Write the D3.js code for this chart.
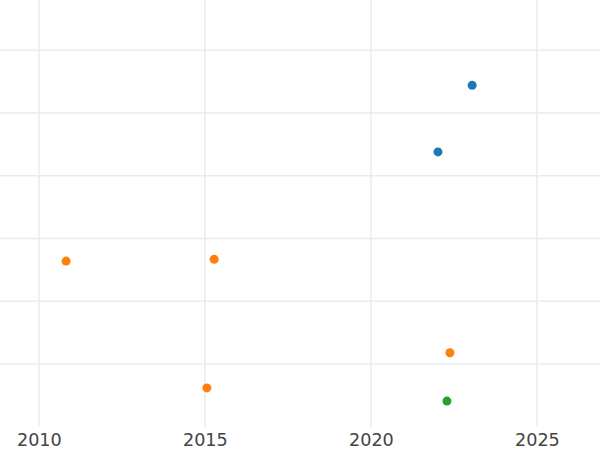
<!DOCTYPE html>
<html>
<head>
<meta charset="utf-8">
<script src="https://cdn.jsdelivr.net/npm/d3@7"></script>
<style>
  body { margin: 0; background: #fff; }
  text { font-family: "DejaVu Sans", sans-serif; }
</style>
</head>
<body>
<script>
var
  width   = 600,
  height  = 450,
  plotBottom = 426.8,
  xTicks  = [2010, 2015, 2020, 2025],
  yTicks  = [1, 2, 3, 4, 5, 6],
  // three series
  blueYears   = [2023.05, 2022.02],
  blueValues  = [5.44, 4.38],
  orangeYears  = [2010.82, 2015.28, 2022.38, 2015.06],
  orangeValues = [2.64, 2.67, 1.18, 0.62],
  greenYears  = [2022.29],
  greenValues = [0.41],
  series  = [
    { color: '#1f77b4', years: blueYears,   values: blueValues },
    { color: '#ff7f0e', years: orangeYears, values: orangeValues },
    { color: '#2ca02c', years: greenYears,  values: greenValues }
  ],
  x       = d3.scaleLinear()
                .domain([2008.83, 2026.9])
                .range([0, width]),
  y       = d3.scaleLinear()
                .domain([0, 6.8])
                .range([plotBottom, 0]),
  svg     = d3.select('body')
                .append('svg')
                .attr('width', width)
                .attr('height', height);

// grid
svg.append('g')
  .selectAll('line')
  .data(yTicks)
  .enter()
  .append('line')
    .attr('x1', 0)
    .attr('x2', width)
    .attr('y1', y)
    .attr('y2', y)
    .attr('stroke', '#ebebeb')
    .attr('stroke-width', 1.5);

svg.append('g')
  .selectAll('line')
  .data(xTicks)
  .enter()
  .append('line')
    .attr('x1', x)
    .attr('x2', x)
    .attr('y1', 0)
    .attr('y2', plotBottom)
    .attr('stroke', '#ebebeb')
    .attr('stroke-width', 1.5);

// x axis labels
var xAxis = svg.append('g')
  .attr('transform', 'translate(0,' + plotBottom + ')')
  .call(d3.axisBottom(x).tickValues(xTicks).tickFormat(d3.format('d')).tickSize(0).tickPadding(7));
xAxis.select('.domain').remove();
xAxis.selectAll('text')
  .attr('fill', '#444')
  .style('font-size', '17.6px')
  .style('font-family', '"DejaVu Sans", sans-serif');

// points
series.forEach(function (s) {
  svg.append('g')
    .selectAll('circle')
    .data(s.years.map(function (yr, i) { return [yr, s.values[i]]; }))
    .enter()
    .append('circle')
      .attr('cx', function (d) { return x(d[0]); })
      .attr('cy', function (d) { return y(d[1]); })
      .attr('r', 4.5)
      .attr('fill', s.color);
});
</script>
</body>
</html>
